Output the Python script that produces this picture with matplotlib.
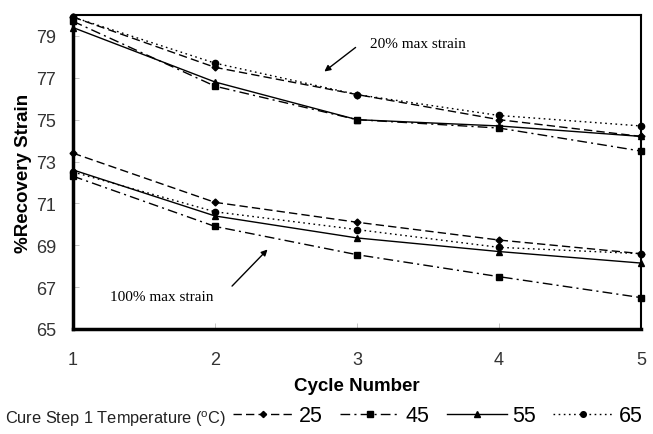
import matplotlib
matplotlib.use("Agg")
import matplotlib.pyplot as plt

cycles = [1, 2, 3, 4, 5]
temps = ["25", "45", "55", "65"]

# 20% max strain
s20_25 = [79.9, 77.5, 76.2, 75.0, 74.2]
s20_45 = [79.7, 76.6, 75.0, 74.6, 73.5]
s20_55 = [79.4, 76.8, 75.0, 74.7, 74.2]
s20_65 = [79.9, 77.7, 76.2, 75.2, 74.7]

# 100% max strain
s100_25 = [73.4, 71.05, 70.1, 69.25, 68.6]
s100_45 = [72.3, 69.9, 68.55, 67.5, 66.5]
s100_55 = [72.6, 70.4, 69.35, 68.7, 68.15]
s100_65 = [72.5, 70.6, 69.75, 68.9, 68.6]

y_ticks = [65, 67, 69, 71, 73, 75, 77, 79]

styles = {
    "25": dict(ls=(0, (6, 3)), marker="D", ms=3.5),
    "45": dict(ls=(0, (7, 3, 1.5, 3)), marker="s", ms=4.5),
    "55": dict(ls="-", marker="^", ms=4.5),
    "65": dict(ls=(0, (1.2, 2.5)), marker="o", ms=4.5),
}

fig = plt.figure(figsize=(6.53, 4.35), dpi=100)
ax = fig.add_axes([73/653, 1-330/435, (641-73)/653, (330-16)/435])

series20 = [s20_25, s20_45, s20_55, s20_65]
series100 = [s100_25, s100_45, s100_55, s100_65]
handles = []
for t, a, b in zip(temps, series20, series100):
    st = styles[t]
    h, = ax.plot(cycles, a, color="black", lw=1.0, linestyle=st["ls"], marker=st["marker"],
                 ms=st["ms"], clip_on=False, label=t)
    ax.plot(cycles, b, color="black", lw=1.0, linestyle=st["ls"], marker=st["marker"],
            ms=st["ms"], clip_on=False)
    handles.append(h)

ax.set_xlim(1, 5)
ax.set_ylim(65, 80)
ax.set_xticks(cycles)
ax.set_yticks(y_ticks)
ax.tick_params(direction="in", length=4, width=0.6, color="#bbbbbb",
               labelsize=13, labelcolor="#333333")
ax.tick_params(axis="y", pad=12)
ax.tick_params(axis="x", pad=16)
for lab in ax.get_xticklabels() + ax.get_yticklabels():
    lab.set_family("Liberation Sans")
for side in ["left", "bottom"]:
    ax.spines[side].set_linewidth(2.5)
for side in ["top", "right"]:
    ax.spines[side].set_linewidth(1.5)

ax.set_xlabel("Cycle Number", fontsize=13.5, fontweight="bold", family="Liberation Sans",
              labelpad=6)
ax.set_ylabel("%Recovery Strain", fontsize=13.5, fontweight="bold", family="Liberation Sans",
              labelpad=3)

# 20% annotation
ax.annotate("", xy=(2.77, 77.3), xytext=(2.99, 78.45),
            arrowprops=dict(arrowstyle="-|>", color="black", lw=1, shrinkA=0, shrinkB=0,
                            mutation_scale=9))
ax.text(3.09, 78.65, "20% max strain", fontsize=11, family="Liberation Serif",
        va="center", ha="left")
# 100% annotation
ax.annotate("", xy=(2.37, 68.8), xytext=(2.12, 67.05),
            arrowprops=dict(arrowstyle="-|>", color="black", lw=1, shrinkA=0, shrinkB=0,
                            mutation_scale=9))
ax.text(1.26, 66.55, "100% max strain", fontsize=11, family="Liberation Serif",
        va="center", ha="left")

fig.text(5/653, 1-419/435, "Cure Step 1 Temperature ($^{\\mathregular{o}}$C)",
         fontsize=11.8, family="Liberation Sans", va="center", ha="left", color="#222222")
leg = fig.legend(handles=handles, loc="center left", bbox_to_anchor=(233/653, 1-417/435),
                 ncol=4, frameon=False, handlelength=2.8, handletextpad=0.25,
                 columnspacing=0.8, borderpad=0, borderaxespad=0, markerscale=0.9,
                 prop={"family": "Liberation Sans", "size": 15.5})

fig.savefig("out.png", dpi=100)
